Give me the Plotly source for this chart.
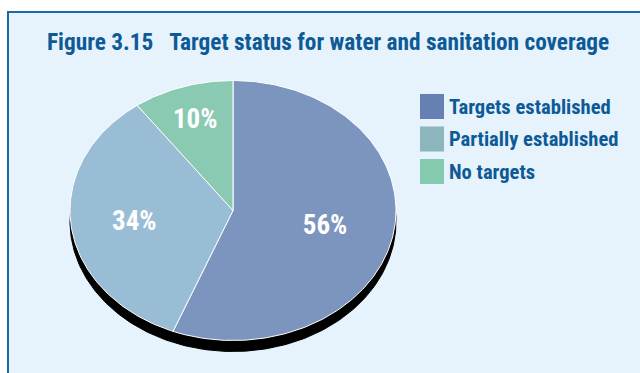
import numpy as np
import plotly.graph_objects as go

categories = ["Targets established", "Partially established", "No targets"]
values = [56, 34, 10]
slice_colors = ["#7c95be", "#98bdd5", "#8acab3"]
legend_colors = ["#6680b2", "#8db5bc", "#86cab0"]
title_text = "Figure 3.15\u00a0\u00a0\u00a0Target status for water and sanitation coverage"

W, H = 640, 373
cx_px, cy_px = 233, 210.5     # pie centre in pixels
ax_px, by_px = 163, 130       # ellipse semi-axes in pixels
shadow_px = 11
label_dy_px = 3

FONT = "Roboto Condensed, Liberation Sans Narrow, DejaVu Sans Condensed, sans-serif"
TXT = "#0d5a96"

fig = go.Figure()

# shadow (full unit circle shifted down)
t = np.linspace(0, 2 * np.pi, 400)
dy = shadow_px / by_px
fig.add_trace(go.Scatter(x=np.sin(t), y=np.cos(t) - dy, mode="lines", fill="toself",
                         fillcolor="#000000", line=dict(color="#000000", width=1),
                         hoverinfo="skip", showlegend=False))

total = sum(values)
start = 0.0
label_r = [0.575, 0.61, 0.75]
for i, (cat, v) in enumerate(zip(categories, values)):
    frac = v / total
    a = np.linspace(start, start + frac, max(int(400 * frac), 10)) * 2 * np.pi
    xs = np.concatenate([[0], np.sin(a), [0]])
    ys = np.concatenate([[0], np.cos(a), [0]])
    fig.add_trace(go.Scatter(x=xs, y=ys, mode="lines", fill="toself",
                             fillcolor=slice_colors[i], line=dict(color="white", width=1),
                             name=cat, hoverinfo="name", showlegend=False))
    mid = (start + frac / 2) * 2 * np.pi
    fig.add_trace(go.Scatter(x=[label_r[i] * np.sin(mid)],
                             y=[label_r[i] * np.cos(mid) - label_dy_px / by_px],
                             mode="text", text=[f"<b>{v}%</b>"],
                             textfont=dict(family=FONT, size=27, color="white"),
                             hoverinfo="skip", showlegend=False))
    start += frac

# background frame
shapes = [dict(type="rect", xref="paper", yref="paper",
               x0=8 / W, x1=1.05, y0=-0.05, y1=1 - 12 / H,
               fillcolor="#e6f2fc", line=dict(color="#1b6aa8", width=2), layer="below")]
annotations = [dict(text="<b>" + title_text + "</b>", xref="paper", yref="paper",
                    x=45 / W, y=1 - 42 / H, xanchor="left", yanchor="middle",
                    showarrow=False, font=dict(family=FONT, size=23.3, color=TXT))]

# manual legend
for i, cat in enumerate(categories):
    yc = 106.5 + 32.5 * i
    shapes.append(dict(type="rect", xref="paper", yref="paper",
                       x0=420 / W, x1=444 / W, y0=1 - (yc + 12.5) / H, y1=1 - (yc - 12.5) / H,
                       fillcolor=legend_colors[i], line=dict(width=0)))
    annotations.append(dict(text="<b>" + cat + "</b>", xref="paper", yref="paper",
                            x=447 / W, y=1 - yc / H, xanchor="left", yanchor="middle",
                            showarrow=False, font=dict(family=FONT, size=20.6, color=TXT)))

fig.update_layout(
    width=W, height=H, margin=dict(l=0, r=0, t=0, b=0),
    paper_bgcolor="white", plot_bgcolor="rgba(0,0,0,0)",
    xaxis=dict(range=[-cx_px / ax_px, (W - cx_px) / ax_px], visible=False, fixedrange=True),
    yaxis=dict(range=[-(H - cy_px) / by_px, cy_px / by_px], visible=False, fixedrange=True),
    shapes=shapes, annotations=annotations, showlegend=False,
)

fig.write_html("out.html", config={"displayModeBar": False},
               post_script="document.body.style.margin='0';")
